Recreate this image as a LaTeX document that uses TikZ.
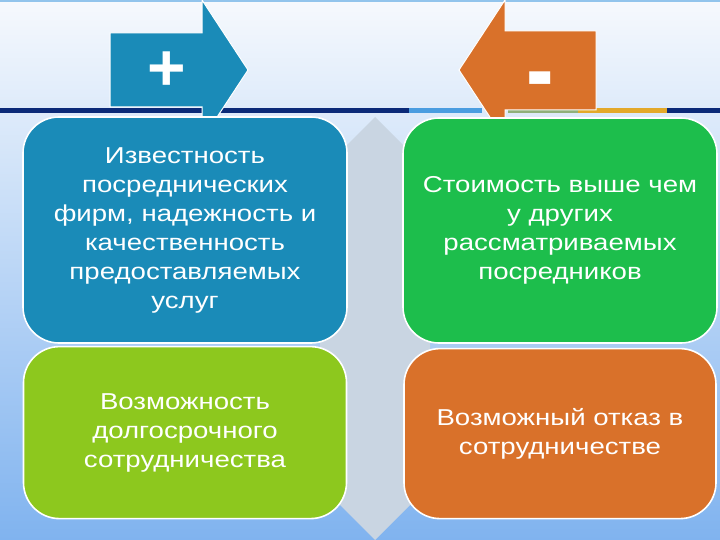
\documentclass[tikz,border=0pt]{standalone}
\usepackage{fontspec}
\setmainfont{Liberation Sans}[FakeStretch=1.2]
\newfontfamily\signfont{Liberation Sans}
\usetikzlibrary{positioning}
\definecolor{bgtop}{HTML}{F6F9FD}
\definecolor{bgbot}{HTML}{80B3EF}
\definecolor{spine}{HTML}{C9D5E2}
\definecolor{navy}{HTML}{0B2A78}
\definecolor{skyline}{HTML}{4A9DE0}
\definecolor{sageline}{HTML}{8FB07A}
\definecolor{goldline}{HTML}{E3A92A}
\definecolor{problue}{HTML}{1A8BB8}
\definecolor{prolime}{HTML}{8DC81E}
\definecolor{congreen}{HTML}{1DBE4C}
\definecolor{conorange}{HTML}{D9712A}
\begin{document}
\begin{tikzpicture}[x=1pt,y=-1pt,
	box/.style={rounded corners=36pt,draw=white,line width=1.6pt,text=white,
		align=center,inner sep=0pt,font=\fontsize{23}{29}\selectfont},
	sign/.style={text=white,inner sep=0pt,font=\signfont\bfseries\fontsize{66}{66}\selectfont},
	tag/.style={draw=white,line width=1pt}]
	\useasboundingbox (0,0) rectangle (720,540);
	% background and middle spine
	\shade[top color=bgtop,bottom color=bgbot] (0,0) rectangle (720,540);
	\draw[skyline!60,line width=2pt] (0,1) -- (720,1);
	\fill[spine] (375,117) -- (430,172) -- (430,485) -- (375,540)
		-- (320,485) -- (320,172) -- cycle;
	% header band
	\fill[navy] (0,108) rectangle (409,113);
	\fill[skyline] (409,108) rectangle (482,113);
	\fill[sageline] (508,108) rectangle (578,113);
	\fill[goldline] (578,108) rectangle (667,113);
	\fill[navy] (667,108) rectangle (720,113);
	% arrows
	\filldraw[tag,fill=problue] (110,33) -- (202,33) -- (202,0) -- (248,70)
		-- (202,140) -- (202,107) -- (110,107) -- cycle;
	\filldraw[tag,fill=conorange] (596,31) -- (505,31) -- (505,0) -- (459,70)
		-- (505,140) -- (505,110) -- (596,110) -- cycle;
	\node[sign] (plus) at (167,71) {+};
	\node[sign] (minus) at (540,89) {\scalebox{1.25}[1.6]{-}};
	% boxes
	\node[box,fill=problue,minimum width=324pt,minimum height=226pt] (pro_1) at (185,230)
		{Известность\\посреднических\\фирм, надежность и\\качественность\\предоставляемых\\услуг};
	\node[box,fill=prolime,minimum width=323pt,minimum height=172pt] (pro_2) [below=2pt of pro_1]
		{Возможность\\долгосрочного\\сотрудничества};
	\node[box,fill=congreen,minimum width=314pt,minimum height=225pt] (con_1) at (560,230.5)
		{Стоимость выше чем\\у других\\рассматриваемых\\посредников};
	\node[box,fill=conorange,minimum width=312pt,minimum height=170pt] (con_2) [below=4pt of con_1]
		{Возможный отказ в\\сотрудничестве};
\end{tikzpicture}
\end{document}
